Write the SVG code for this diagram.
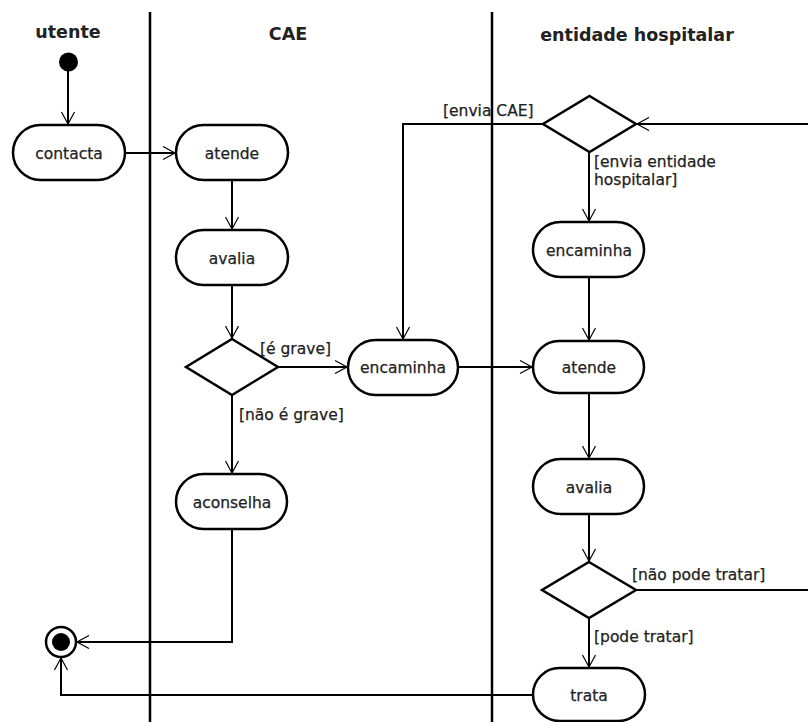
<svg xmlns="http://www.w3.org/2000/svg" width="808" height="722" viewBox="0 0 808 722">
<defs>
<style>
.lane{stroke:#000;stroke-width:2.5;fill:none}
.hdr{font-family:"DejaVu Sans",sans-serif;font-weight:bold;font-size:17.5px;fill:#222;text-anchor:middle}
.act{fill:#fff;stroke:#000;stroke-width:2.5}
.lbl{font-family:"DejaVu Sans",sans-serif;font-size:15.5px;fill:#222;stroke:#222;stroke-width:0.25;text-anchor:middle}
.grd{font-family:"DejaVu Sans",sans-serif;font-size:15.5px;fill:#222;stroke:#222;stroke-width:0.25}
.dec{fill:#fff;stroke:#000;stroke-width:2.5;stroke-linejoin:miter}
.edge{fill:none;stroke:#000;stroke-width:2;marker-end:url(#arr)}
.line{fill:none;stroke:#000;stroke-width:2}
</style>
<marker id="arr" markerUnits="userSpaceOnUse" markerWidth="16" markerHeight="16" viewBox="0 0 16 16" refX="14" refY="8" orient="auto">
<path d="M2,1.5 L14,8 L2,14.5" fill="none" stroke="#000" stroke-width="1.2"/>
</marker>
</defs>
<rect width="808" height="722" fill="#fff"/>
<g id="lanes">
<line class="lane" x1="150" y1="12" x2="150" y2="722"/>
<line class="lane" x1="492" y1="12" x2="492" y2="722"/>
<text class="hdr" x="68" y="38">utente</text>
<text class="hdr" x="288" y="40">CAE</text>
<text class="hdr" x="637" y="41">entidade hospitalar</text>
</g>
<g id="connectors">
<line class="edge" x1="68" y1="71" x2="68" y2="124"/>
<line class="edge" x1="125" y1="153" x2="175" y2="153"/>
<line class="edge" x1="232" y1="180" x2="232" y2="229"/>
<line class="edge" x1="232" y1="285" x2="232" y2="338"/>
<line class="edge" x1="278" y1="367" x2="347" y2="367"/>
<line class="edge" x1="232" y1="395" x2="232" y2="473"/>
<polyline class="edge" points="232,529 232,642 77,642"/>
<line class="edge" x1="458" y1="367" x2="532" y2="367"/>
<polyline class="edge" points="543,124 403,124 403,339"/>
<line class="edge" x1="808" y1="124" x2="637" y2="124"/>
<line class="edge" x1="589" y1="152" x2="589" y2="221"/>
<line class="edge" x1="589" y1="277" x2="589" y2="340"/>
<line class="edge" x1="589" y1="393" x2="589" y2="458"/>
<line class="edge" x1="589" y1="514" x2="589" y2="561"/>
<line class="line" x1="636" y1="590" x2="808" y2="590"/>
<line class="edge" x1="589" y1="618" x2="589" y2="667"/>
<polyline class="edge" points="533,695 61,695 61,658"/>
<text class="grd" x="260" y="354">[é grave]</text>
<text class="grd" x="239" y="420">[não é grave]</text>
<text class="grd" x="443" y="116">[envia CAE]</text>
<text class="grd" x="594" y="167">[envia entidade</text>
<text class="grd" x="594" y="185">hospitalar]</text>
<text class="grd" x="632" y="580">[não pode tratar]</text>
<text class="grd" x="594" y="642">[pode tratar]</text>
</g>
<g id="initial"><circle cx="68.5" cy="62" r="9.5" fill="#000"/></g>
<g id="final"><circle cx="61" cy="642" r="15" fill="#fff" stroke="#000" stroke-width="2.5"/><circle cx="61" cy="642" r="9" fill="#000"/></g>
<g id="contacta"><rect class="act" x="13" y="125" width="112" height="55" rx="27.5"/><text class="lbl" x="69" y="158.5">contacta</text></g>
<g id="cae-atende"><rect class="act" x="176" y="125" width="112" height="55" rx="27.5"/><text class="lbl" x="232" y="158.5">atende</text></g>
<g id="cae-avalia"><rect class="act" x="176" y="230" width="112" height="55" rx="27.5"/><text class="lbl" x="232" y="263.5">avalia</text></g>
<g id="cae-decisao"><polygon class="dec" points="232,339 278,367 232,395 186,367"/></g>
<g id="cae-encaminha"><rect class="act" x="348" y="340" width="110" height="55" rx="27.5"/><text class="lbl" x="403" y="372.5">encaminha</text></g>
<g id="aconselha"><rect class="act" x="176" y="474" width="111" height="55" rx="27.5"/><text class="lbl" x="232" y="507.5">aconselha</text></g>
<g id="eh-decisao1"><polygon class="dec" points="589.5,96 636,124 589.5,152 543,124"/></g>
<g id="eh-encaminha"><rect class="act" x="533" y="222" width="111" height="55" rx="27.5"/><text class="lbl" x="589" y="255.5">encaminha</text></g>
<g id="eh-atende"><rect class="act" x="533" y="341" width="111" height="52" rx="26"/><text class="lbl" x="589" y="372.5">atende</text></g>
<g id="eh-avalia"><rect class="act" x="533" y="459" width="111" height="55" rx="27.5"/><text class="lbl" x="589" y="492.5">avalia</text></g>
<g id="eh-decisao2"><polygon class="dec" points="589,562 636,590 589,618 542,590"/></g>
<g id="trata"><rect class="act" x="533" y="668" width="112" height="53" rx="26.5"/><text class="lbl" x="589" y="701">trata</text></g>
</svg>
